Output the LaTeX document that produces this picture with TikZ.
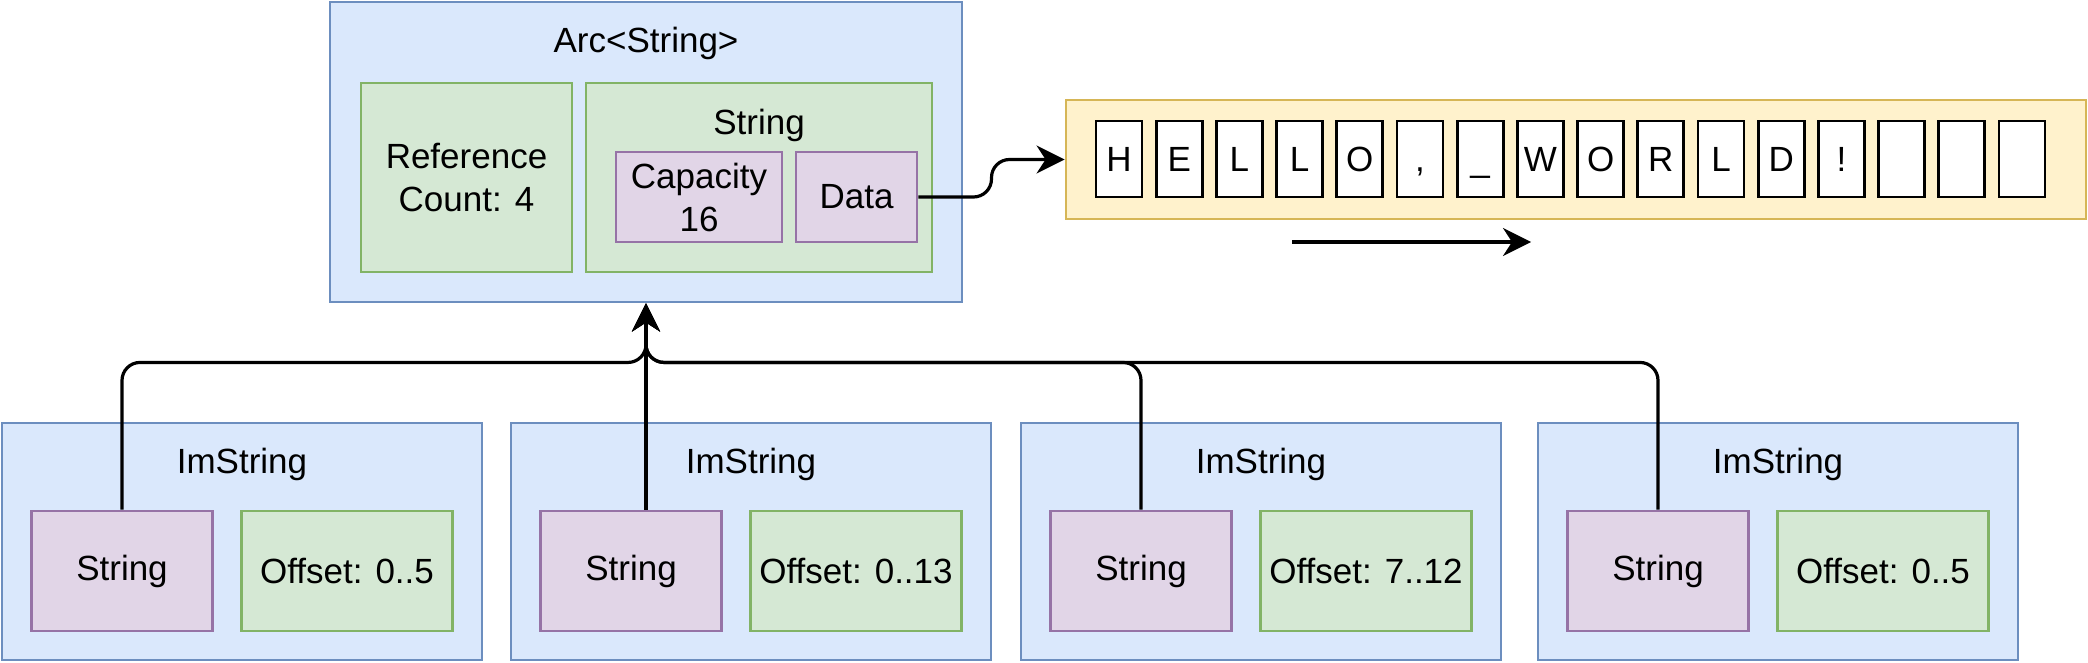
\documentclass[tikz,border=0pt]{standalone}
\usepackage{fontspec}
\setmainfont{Liberation Sans}
\usetikzlibrary{calc,arrows.meta}

\definecolor{blueFill}{HTML}{DAE8FC}
\definecolor{blueLine}{HTML}{6C8EBF}
\definecolor{greenFill}{HTML}{D5E8D4}
\definecolor{greenLine}{HTML}{82B366}
\definecolor{purpleFill}{HTML}{E1D5E7}
\definecolor{purpleLine}{HTML}{9673A6}
\definecolor{yellowFill}{HTML}{FFF2CC}
\definecolor{yellowLine}{HTML}{D6B656}

\begin{document}
\begin{tikzpicture}[x=0.5pt,y=-0.5pt,
  font=\fontsize{17.5}{21.5}\selectfont,
  blk/.style={draw=blueLine,fill=blueFill,line width=1.45pt,inner sep=0pt},
  grn/.style={draw=greenLine,fill=greenFill,line width=1.45pt,inner sep=0pt,align=center},
  prp/.style={draw=purpleLine,fill=purpleFill,line width=1.45pt,inner sep=0pt,align=center},
  cell/.style={draw=black,fill=white,line width=1.45pt,inner sep=0pt,
    minimum width=23pt,minimum height=38pt,text height=13pt,text depth=0pt},
  tip/.style={-{Stealth[length=14pt,width=14pt,inset=4.5pt]}},
  conn/.style={line width=1.6pt,rounded corners=9pt,tip}]
\useasboundingbox (0,0) rectangle (2088,663);

% shared Arc<String>
\node[blk,minimum width=316pt,minimum height=150pt] (arc) at (646,152) {};
\node[anchor=base] (arcT) at (646,53) {Arc<String>};
\node[grn,minimum width=105.5pt,minimum height=94.5pt] (ref) at (466.5,177.5) {Reference\\Count: 4};
\node[grn,minimum width=173pt,minimum height=94.5pt] (str) at (759,177.5) {};
\node[anchor=base] (strT) at (759,135) {String};
\node[prp,minimum width=83pt,minimum height=45pt] (cap) at (699,197) {Capacity\\16};
\node[prp,minimum width=60.5pt,minimum height=45pt] (data) at (856.5,197) {Data};

% heap buffer
\node[draw=yellowLine,fill=yellowFill,line width=1.45pt,minimum width=510pt,minimum height=59.5pt] (buf) at (1576,159.5) {};
\foreach \ch [count=\i from 0] in {H,E,L,L,O,{,},\_,W,O,R,L,D,!,{},{},{}}
  \node[cell] (c\i) at (1119+60.2*\i,159) {\ch};
\coordinate (dirA) at (1292,242);
\coordinate (dirB) at (1531,242);
\draw[line width=1.6pt,tip] (dirA) -- (dirB);
\draw[conn] (data.east) -- ($(data.east)!.5!(data.east -| buf.west)$) |- (buf.west);

% the four ImString values
\foreach \n/\lx/\off in {1/2/0..5,2/511/0..13,3/1021/7..12,4/1538/0..5}{
  \node[blk,minimum width=240pt,minimum height=118.5pt] (im\n) at (\lx+240,541.5) {};
  \node[anchor=base] (imT\n) at (\lx+240,473) {ImString};
  \node[prp,minimum width=90.5pt,minimum height=60pt] (s\n) at (\lx+120,571) {String};
  \node[grn,minimum width=105.5pt,minimum height=60pt] (o\n) at (\lx+345,571) {Offset: \off};
}

\coordinate (hub) at ($(arc.south)+(0,59)$);
\draw[conn] (s1.north) |- (hub) -- (arc.south);
\draw[conn] (arc.south |- s2.north) -- (arc.south);
\draw[conn] (s3.north) |- (hub) -- (arc.south);
\draw[conn] (s4.north) |- (hub) -- (arc.south);
\end{tikzpicture}
\end{document}
